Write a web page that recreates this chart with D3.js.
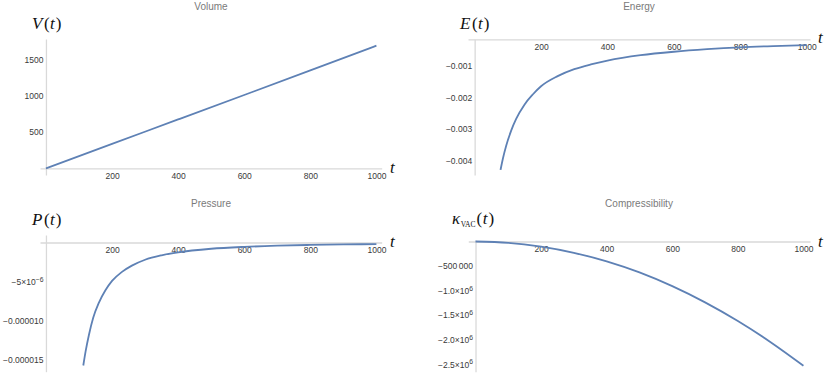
<!DOCTYPE html>
<html>
<head>
<meta charset="utf-8">
<script src="https://cdn.jsdelivr.net/npm/d3@7"></script>
<style>
  body { margin: 0; background: #fff; }
  .tick text { font-family: "Liberation Sans", Arial, sans-serif; font-size: 8.5px; fill: #3a3a3a; }
  .title { font-family: "Liberation Sans", Arial, sans-serif; font-size: 10px; fill: #7a7a7a; text-anchor: middle; }
  .lab { font-family: "Liberation Serif", "Times New Roman", serif; font-size: 17px; fill: #111; }
  .axis path.domain { stroke: #d9d9d9; stroke-width: 1.3px; }
</style>
</head>
<body>
<svg id="chart" width="830" height="381"></svg>
<script>
// values
var volT = [0, 200, 400, 600, 800, 1000];
var volV = [0, 337, 673, 1010, 1349, 1689];

var enT = [78, 85, 95, 110, 125, 150, 175, 200, 250, 300, 350, 400, 500, 600, 700, 800, 900, 1000];
var enE = [-0.00429, -0.00394, -0.00353, -0.00305, -0.00268, -0.00223, -0.00191, -0.00165, -0.00133, -0.00111,
           -0.00096, -0.00084, -0.00067, -0.00056, -0.00048, -0.00042, -0.00038, -0.00035];

var prT = [113, 120, 130, 143, 160, 180, 200, 230, 260, 300, 350, 400, 500, 600, 700, 800, 900, 1000];
var prP = [-1.57e-5, -1.39e-5, -1.18e-5, -9.6e-6, -7.7e-6, -6.1e-6, -4.9e-6, -3.75e-6, -2.95e-6, -2.2e-6,
           -1.63e-6, -1.25e-6, -8e-7, -5.6e-7, -4.1e-7, -3.1e-7, -2.5e-7, -2e-7];

var kaT = [0, 100, 200, 300, 400, 500, 600, 700, 800, 900, 1000];
var kaK = [0, -2.6e4, -1.05e5, -2.3e5, -4.05e5, -6.3e5, -9.1e5, -1.24e6, -1.62e6, -2.05e6, -2.53e6];

// ticks
var tTicks = [200, 400, 600, 800, 1000];
var volTicks = [500, 1000, 1500];
var volLabels = ["500", "1000", "1500"];
var enTicks = [-0.001, -0.002, -0.003, -0.004];
var enLabels = ["\u22120.001", "\u22120.002", "\u22120.003", "\u22120.004"];
var prTicks = [-5e-6, -1e-5, -1.5e-5];
var prLabels = ["\u22125\u00d710^\u22126", "\u22120.000010", "\u22120.000015"];
var kaTicks = [-5e5, -1e6, -1.5e6, -2e6, -2.5e6];
var kaLabels = ["\u2212500\u2009000", "\u22121.0\u00d710^6", "\u22121.5\u00d710^6", "\u22122.0\u00d710^6", "\u22122.5\u00d710^6"];

var svg = d3.select("#chart");
var lineColor = "#5e81b5";

var panels = [
  { title: "Volume", tx: 211, ty: 10, t: volT, v: volV, yt: volTicks, yl: volLabels,
    xd: [-18, 1016], xr: [40, 381.7], yd: [-92, 1781], yr: [175, 39], xAt: 0,
    name: "V", lx: 32, ly: 28.5, sx: 390, sy: 172.5 },
  { title: "Energy", tx: 639, ty: 10, t: enT, v: enE, yt: enTicks, yl: enLabels,
    xd: [-20, 1010], xr: [468, 810], yd: [-0.004452, -0.000167], yr: [175, 39.3], xAt: -0.000167,
    name: "E", lx: 460, ly: 28.5, sx: 818, sy: 43 },
  { title: "Pressure", tx: 211, ty: 206.5, t: prT, v: prP, yt: prTicks, yl: prLabels,
    xd: [-18, 1016], xr: [40, 381.7], yd: [-1.649e-5, 0.957e-6], yr: [371.7, 235], xAt: 0,
    name: "P", lx: 32, ly: 224.5, sx: 390, sy: 246.5 },
  { title: "Compressibility", tx: 639, ty: 206.5, t: kaT, v: kaK, yt: kaTicks, yl: kaLabels,
    xd: [-22, 1020], xr: [468.3, 810], yd: [-2.651e6, 30500], yr: [371.7, 240], xAt: 0,
    name: "\u03ba", sub: "VAC", lx: 452, ly: 223.5, sx: 818, sy: 246.5 }
];

function supLabels(sel) {
  sel.selectAll(".tick text").each(function () {
    var s = d3.select(this).text();
    if (s.indexOf("^") < 0) return;
    var parts = s.split("^");
    var el = d3.select(this).text("");
    el.append("tspan").text(parts[0]);
    el.append("tspan").attr("dy", "-0.45em").style("font-size", "6.8px").text(parts[1]);
  });
}

panels.forEach(function (p) {
  var x = d3.scaleLinear().domain(p.xd).range(p.xr);
  var y = d3.scaleLinear().domain(p.yd).range(p.yr);
  var g = svg.append("g");

  g.append("text").attr("class", "title").attr("x", p.tx).attr("y", p.ty).text(p.title);

  g.append("g").attr("class", "axis")
    .attr("transform", "translate(0," + y(p.xAt) + ")")
    .call(d3.axisBottom(x).tickValues(tTicks).tickFormat(d3.format("d"))
      .tickSize(0).tickSizeOuter(0).tickPadding(4.5));

  var ya = g.append("g").attr("class", "axis")
    .attr("transform", "translate(" + x(0) + ",0)")
    .call(d3.axisLeft(y).tickValues(p.yt).tickSize(0).tickSizeOuter(0).tickPadding(2.5)
      .tickFormat(function (d, i) { return p.yl[i]; }));
  supLabels(ya);

  var pts = p.t.map(function (d, i) { return [d, p.v[i]]; });
  g.append("path")
    .datum(pts)
    .attr("fill", "none")
    .attr("stroke", lineColor)
    .attr("stroke-width", 1.8)
    .attr("d", d3.line().x(function (d) { return x(d[0]); }).y(function (d) { return y(d[1]); })
      .curve(d3.curveMonotoneX));

  // axis names, spaced like TraditionalForm
  var lab = g.append("text").attr("class", "lab").attr("x", p.lx).attr("y", p.ly);
  lab.append("tspan").style("font-style", "italic").text(p.name);
  if (p.sub) {
    lab.append("tspan").attr("dy", 3).attr("dx", 0.5).style("font-size", "7.5px").text(p.sub);
    lab.append("tspan").attr("dy", -3).attr("dx", 1).text("(");
  } else {
    lab.append("tspan").attr("dx", 1.5).text("(");
  }
  lab.append("tspan").attr("dx", 0.5).style("font-style", "italic").text("t");
  lab.append("tspan").attr("dx", 1).text(")");

  g.append("text").attr("class", "lab").attr("x", p.sx).attr("y", p.sy)
    .style("font-style", "italic").text("t");
});
</script>
</body>
</html>
